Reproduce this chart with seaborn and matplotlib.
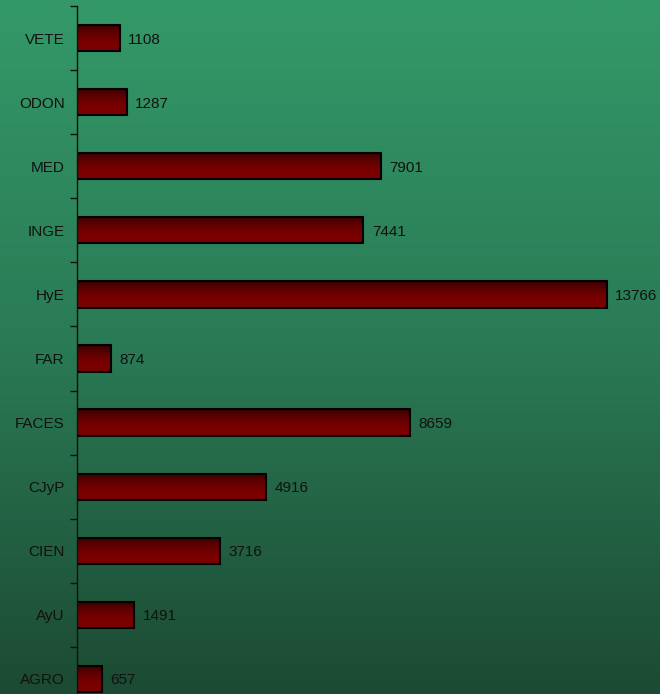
import numpy as np
import pandas as pd
import matplotlib
matplotlib.use("Agg")
import matplotlib.pyplot as plt
import seaborn as sns
from matplotlib.colors import LinearSegmentedColormap

categories = ["VETE", "ODON", "MED", "INGE", "HyE", "FAR", "FACES", "CJyP", "CIEN", "AyU", "AGRO"]
values = [1108, 1287, 7901, 7441, 13766, 874, 8659, 4916, 3716, 1491, 657]

df = pd.DataFrame({"cat": categories, "val": values})

sns.set_style("white")
plt.rcParams["font.family"] = ["Liberation Sans", "DejaVu Sans"]

W, H = 660, 694
fig = plt.figure(figsize=(W / 100, H / 100), dpi=100)

# background gradient
bg = fig.add_axes([0, 0, 1, 1], zorder=-10)
grad = np.linspace(0, 1, 256).reshape(-1, 1)
bg_cmap = LinearSegmentedColormap.from_list("bg", ["#349968", "#2a7a55", "#1c4a33"])
bg.imshow(grad, aspect="auto", cmap=bg_cmap, extent=[0, 1, 1, 0])
bg.set_axis_off()

left = 77 / W
top = 1 - 6 / H
bottom = (H - 711) / H
ax = fig.add_axes([left, bottom, 1 - left, top - bottom])
ax.patch.set_alpha(0)

sns.barplot(data=df, x="val", y="cat", orient="h", ax=ax, width=0.41,
            color="#700000", edgecolor="black", linewidth=1.5, saturation=1)

xmax = (W - 77) / (530 / 13766)
ax.set_xlim(0, xmax)
ax.set_ylim(len(categories) - 0.5, -0.5)

bar_cmap = LinearSegmentedColormap.from_list("bar", ["#3a0000", "#600000", "#7a0000", "#7c0000"])
for p, v in zip(ax.patches, values):
    x0, y0 = p.get_x(), p.get_y()
    w, h = p.get_width(), p.get_height()
    im = ax.imshow(grad, aspect="auto", cmap=bar_cmap,
                   extent=[x0, x0 + w, y0 + h, y0], zorder=p.get_zorder() - 0.1)
    im.set_clip_path(p)
    p.set_facecolor("none")
    ax.annotate(f"{v}", (x0 + w, y0 + h / 2), xytext=(6, 0), textcoords="offset points",
                ha="left", va="center_baseline", fontsize=11, color="#111111")

ax.set_xlim(0, xmax)
ax.set_ylim(len(categories) - 0.5, -0.5)
ax.set_xlabel("")
ax.set_ylabel("")
ax.set_xticks([])
ax.set_yticks(range(len(categories)))
ax.set_yticklabels(categories, fontsize=11, color="#111111")
ax.set_yticks(np.arange(-0.5, len(categories), 1), minor=True)
ax.tick_params(axis="y", which="major", left=False, length=0, pad=9)
ax.tick_params(axis="y", which="minor", left=True, length=5, width=1, color="#111111", direction="out")
for s in ["top", "right", "bottom"]:
    ax.spines[s].set_visible(False)
ax.spines["left"].set_color("#111111")
ax.spines["left"].set_linewidth(1)

fig.savefig("out.png", dpi=100)
